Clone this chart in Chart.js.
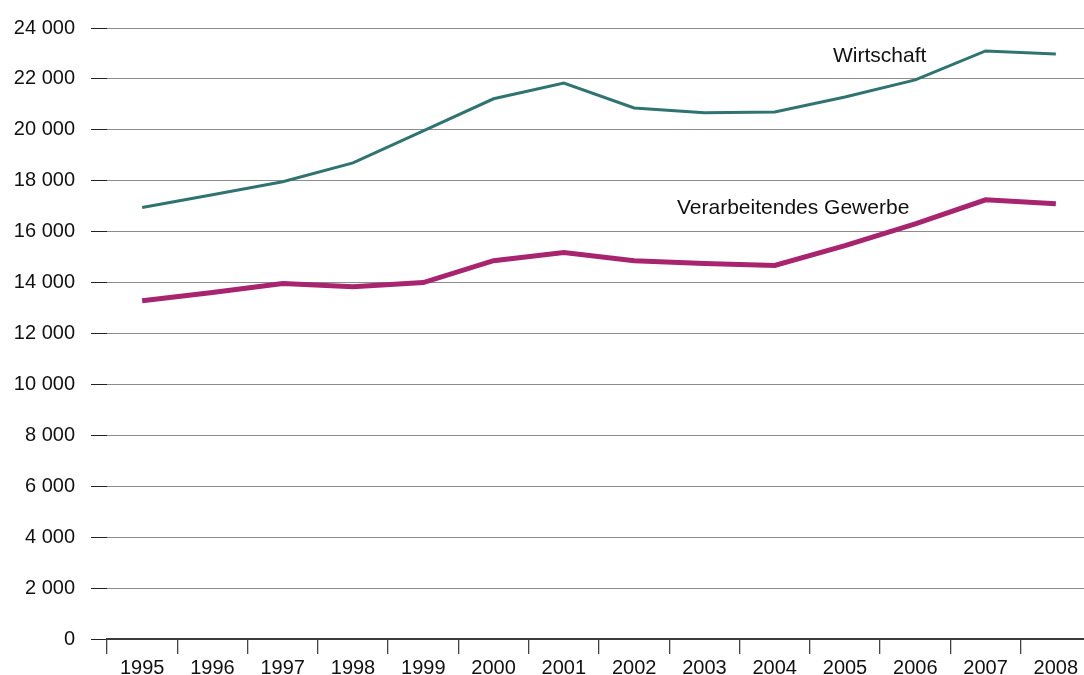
<!DOCTYPE html>
<html>
<head>
<meta charset="utf-8">
<script src="https://cdn.jsdelivr.net/npm/chart.js@4.4.0/dist/chart.umd.min.js"></script>
<style>
  html, body { margin: 0; padding: 0; background: #fff; overflow: hidden; }
  #wrap { position: relative; width: 1091px; height: 675px; }
</style>
</head>
<body>
<div id="wrap"><canvas id="chart"></canvas></div>
<script>
// years on the x axis
const years = ['1995', '1996', '1997', '1998', '1999', '2000', '2001',
               '2002', '2003', '2004', '2005', '2006', '2007', '2008'];

// values
const wirtschaft = [16950, 17450, 17960, 18700, 19960, 21220, 21840,
                    20860, 20670, 20700, 21290, 21960, 23100, 22980];
const verarbeitend = [13290, 13610, 13960, 13840, 14000, 14860, 15180,
                      14860, 14750, 14670, 15450, 16310, 17250, 17100];

const yTicks = [0, 2000, 4000, 6000, 8000, 10000, 12000, 14000, 16000, 18000, 20000, 22000, 24000];

const FONT = 'Liberation Sans, Arial, sans-serif';

function fmt(v) {
  return String(v).replace(/\B(?=(\d{3})+(?!\d))/g, ' ');
}

// series names written next to the lines
const seriesLabels = {
  id: 'seriesLabels',
  afterDatasetsDraw(chart) {
    const { ctx } = chart;
    ctx.save();
    ctx.font = '21px ' + FONT;
    ctx.fillStyle = '#111';
    ctx.textAlign = 'left';
    ctx.textBaseline = 'alphabetic';
    ctx.fillText('Wirtschaft', 833, 62);
    ctx.fillText('Verarbeitendes Gewerbe', 677, 214);
    ctx.restore();
  }
};

new Chart(document.getElementById('chart'), {
  type: 'line',
  data: {
    labels: years,
    datasets: [
      {
        label: 'Wirtschaft',
        data: wirtschaft,
        borderColor: '#2f7470',
        borderWidth: 3,
        pointRadius: 0,
        tension: 0
      },
      {
        label: 'Verarbeitendes Gewerbe',
        data: verarbeitend,
        borderColor: '#a8246e',
        borderWidth: 5,
        pointRadius: 0,
        tension: 0
      }
    ]
  },
  options: {
    responsive: true,
    maintainAspectRatio: false,
    animation: false,
    layout: { padding: { top: 27, right: 0, bottom: 0, left: 0 } },
    plugins: {
      legend: { display: false },
      tooltip: { enabled: false }
    },
    scales: {
      x: {
        offset: true,
        afterFit(scale) { scale.height = 36; },
        grid: {
          offset: true,
          drawOnChartArea: false,
          drawTicks: true,
          tickLength: 15,
          tickColor: '#444',
          lineWidth: 1.3
        },
        border: { display: true, color: '#3a3a3a', width: 2 },
        ticks: {
          color: '#111',
          font: { family: FONT, size: 20 },
          padding: 2,
          maxRotation: 0,
          autoSkip: false
        }
      },
      y: {
        min: 0,
        max: 24000,
        afterFit(scale) { scale.width = 107; },
        afterBuildTicks(scale) { scale.ticks = yTicks.map(v => ({ value: v })); },
        grid: {
          color: '#8c8c8c',
          lineWidth: 1,
          tickLength: 16,
          tickColor: '#222'
        },
        border: { display: false },
        ticks: {
          color: '#111',
          font: { family: FONT, size: 20 },
          padding: 16,
          callback: v => fmt(v)
        }
      }
    }
  },
  plugins: [seriesLabels]
});
</script>
</body>
</html>
